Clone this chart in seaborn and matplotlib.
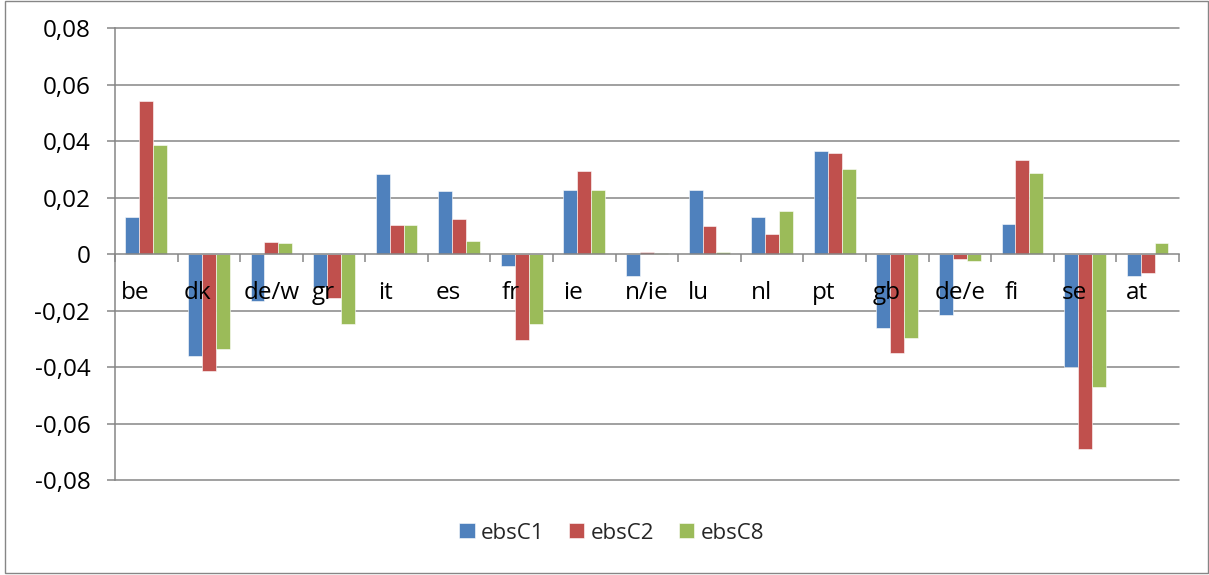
import matplotlib
matplotlib.use("Agg")
import matplotlib.pyplot as plt
import matplotlib.transforms as mtransforms
from matplotlib.patches import Rectangle
from matplotlib.ticker import FixedLocator, FuncFormatter, MultipleLocator
import numpy as np
import pandas as pd
import seaborn as sns

categories = ["be", "dk", "de/w", "gr", "it", "es", "fr", "ie", "n/ie",
              "lu", "nl", "pt", "gb", "de/e", "fi", "se", "at"]
ebsC1 = [0.0131, -0.0362, -0.0165, -0.0116, 0.0285, 0.0224, -0.0041, 0.0227, -0.0079,
         0.0227, 0.0133, 0.0366, -0.0261, -0.0214, 0.0108, -0.0398, -0.0079]
ebsC2 = [0.0543, -0.0414, 0.0043, -0.0156, 0.0103, 0.0123, -0.0303, 0.0295, 0.0006,
         0.0099, 0.0072, 0.0359, -0.0349, -0.0017, 0.0334, -0.0690, -0.0065]
ebsC8 = [0.0386, -0.0335, 0.0039, -0.0249, 0.0103, 0.0045, -0.0247, 0.0228, 0.0005,
         0.0008, 0.0154, 0.0303, -0.0296, -0.0024, 0.0288, -0.0472, 0.0041]
series_names = ["ebsC1", "ebsC2", "ebsC8"]
colors = ["#4F81BD", "#C0504D", "#9BBB59"]

df = pd.concat(
    [pd.DataFrame({"country": categories, "value": vals, "series": name})
     for name, vals in zip(series_names, [ebsC1, ebsC2, ebsC8])],
    ignore_index=True,
)

sns.set_theme(style="white")
plt.rcParams["font.family"] = ["Open Sans", "DejaVu Sans"]
grid_color = "#868686"

fig = plt.figure(figsize=(12.09, 5.75), dpi=100)
ax = fig.add_axes([0.0951, 0.165, 0.880, 0.786])

sns.barplot(data=df, x="country", y="value", hue="series", order=categories,
            hue_order=series_names, palette=colors, width=0.667, errorbar=None,
            edgecolor="#ffffff", linewidth=0.4, saturation=1, ax=ax, zorder=2)

ax.set_ylim(-0.08, 0.08)
ax.set_xlim(-0.5, len(categories) - 0.5)
ax.yaxis.set_major_locator(MultipleLocator(0.02))


def comma_fmt(v, _pos):
    if abs(v) < 1e-9:
        return "0"
    return f"{v:.2f}".replace(".", ",")


ax.yaxis.set_major_formatter(FuncFormatter(comma_fmt))

# horizontal gridlines kept behind the bars; the axis (ticks, labels) sits above them
ax.grid(False)
for yv in np.arange(-0.08, 0.0801, 0.02):
    if abs(yv) > 1e-9:
        ax.axhline(yv, color=grid_color, linewidth=1.1, zorder=0.5, clip_on=False)
ax.set_axisbelow(False)

for side in ["top", "right"]:
    ax.spines[side].set_visible(False)
ax.spines["left"].set_color(grid_color)
ax.spines["left"].set_linewidth(1.1)
ax.spines["bottom"].set_position(("data", 0))
ax.spines["bottom"].set_color(grid_color)
ax.spines["bottom"].set_linewidth(1.1)

# boundaries between categories carry the small tick marks
ax.xaxis.set_minor_locator(FixedLocator([i - 0.5 for i in range(len(categories) + 1)]))
ax.tick_params(axis="x", which="minor", length=5.8, width=1.1, color=grid_color,
               direction="out", bottom=True)
ax.tick_params(axis="x", which="major", length=0, pad=19, labelsize=17.5,
               labelcolor="black")
ax.tick_params(axis="y", which="major", length=5.8, width=1.1, color=grid_color,
               direction="out", left=True, pad=12, labelsize=17.5, labelcolor="black")
ax.set_xlabel("")
ax.set_ylabel("")

# short names sit a little left of the slot centre
for lbl in ax.get_xticklabels():
    if len(lbl.get_text()) <= 2:
        lbl.set_transform(lbl.get_transform() +
                          mtransforms.ScaledTranslation(-11 / 100, 0, fig.dpi_scale_trans))

handles, labels = ax.get_legend_handles_labels()
ax.legend(handles, labels, loc="center", bbox_to_anchor=(0.506, 0.073),
          bbox_transform=fig.transFigure, ncol=3, frameon=False, fontsize=16,
          handlelength=0.68, handleheight=0.65, handletextpad=0.3,
          columnspacing=1.1)

fig.patches.append(Rectangle((0.0041, 0.0035), 0.9948, 0.994, transform=fig.transFigure,
                             fill=False, edgecolor=grid_color, linewidth=1.0))

fig.savefig("out.png", dpi=100, facecolor="white")
